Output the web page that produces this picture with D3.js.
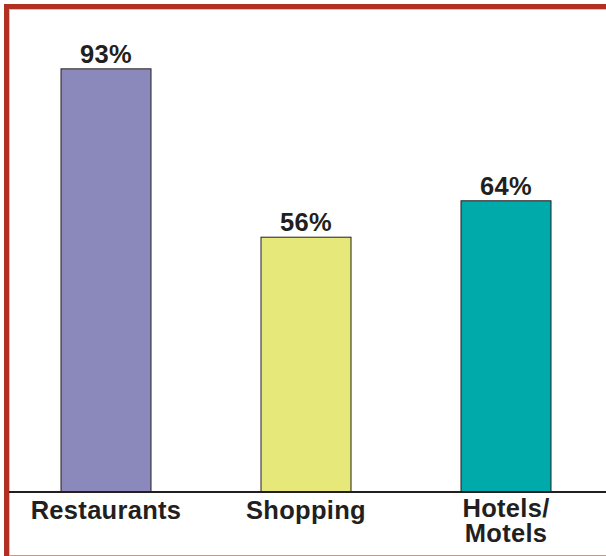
<!DOCTYPE html>
<html>
<head>
<meta charset="utf-8">
<script src="https://cdn.jsdelivr.net/npm/d3@7"></script>
<style>
    body { margin: 0; background: #fff; }
    text { font-family: "Liberation Sans", Arial, Helvetica, sans-serif; font-weight: bold; fill: #231f20; }
</style>
</head>
<body>
<div id="chart"></div>
<script>
"use strict";

// Chart data
let categories = ["Restaurants", "Shopping", "Hotels/\nMotels"];
let values = [93, 56, 64];
let valueLabels = ["93%", "56%", "64%"];
let colours = ["#8b89bb", "#e6e879", "#00a9aa"];

window.onload = function () {
    let width = 606;
    let height = 556;
    let baseline = 492;

    let svg = d3.select("#chart").append("svg")
        .attr("width", width).attr("height", height);

    // Frame: red left and top, faint pink bottom
    svg.append("rect").attr("x", 4).attr("y", 4).attr("width", width - 4).attr("height", 5)
        .style("fill", "#b03123");
    svg.append("rect").attr("x", 4).attr("y", 4).attr("width", 5).attr("height", height - 4)
        .style("fill", "#b03123");
    svg.append("line").attr("x1", 9).attr("x2", width).attr("y1", 9.5).attr("y2", 9.5)
        .style("stroke", "#f2b8b0").style("stroke-width", 1);
    svg.append("line").attr("x1", 9.5).attr("x2", 9.5).attr("y1", 9).attr("y2", height)
        .style("stroke", "#f2b8b0").style("stroke-width", 1);
    svg.append("line").attr("x1", 9).attr("x2", width).attr("y1", 555.5).attr("y2", 555.5)
        .style("stroke", "#d9928b").style("stroke-width", 1);

    // Scales
    let xScale = d3.scaleBand().domain(categories)
        .range([6, 606]).paddingInner(0.55).paddingOuter(0.275);
    let yScale = d3.scaleLinear().domain([0, 100]).range([baseline, baseline - 455]);

    let data = categories.map(function (c, i) {
        return {cat: c, value: values[i], label: valueLabels[i], colour: colours[i]};
    });

    // Bars
    svg.selectAll(".bar").data(data).enter().append("rect")
        .attr("class", "bar")
        .attr("x", function (d) { return xScale(d.cat); })
        .attr("y", function (d) { return yScale(d.value); })
        .attr("width", xScale.bandwidth())
        .attr("height", function (d) { return baseline - yScale(d.value); })
        .style("fill", function (d) { return d.colour; })
        .style("stroke", "#231f20").style("stroke-width", 1);

    // Value labels
    svg.selectAll(".val").data(data).enter().append("text")
        .attr("class", "val")
        .attr("x", function (d) { return xScale(d.cat) + xScale.bandwidth() / 2; })
        .attr("y", function (d) { return yScale(d.value) - 6; })
        .style("text-anchor", "middle").style("font-size", "25.5px")
        .style("letter-spacing", "0.3px")
        .text(function (d) { return d.label; });

    // Axis line
    svg.append("line").attr("x1", 9).attr("x2", width).attr("y1", baseline).attr("y2", baseline)
        .style("stroke", "#231f20").style("stroke-width", 2);

    // Category labels
    let catText = svg.selectAll(".cat").data(data).enter().append("text")
        .attr("class", "cat")
        .attr("x", function (d) { return xScale(d.cat) + xScale.bandwidth() / 2; })
        .attr("y", function (d, i) { return i === 2 ? 517 : 519; })
        .style("text-anchor", "middle").style("font-size", "25.5px")
        .style("letter-spacing", "0.3px");
    catText.each(function (d) {
        let lines = d.cat.split("\n");
        let x = xScale(d.cat) + xScale.bandwidth() / 2;
        lines.forEach(function (l, i) {
            d3.select(this).append("tspan").attr("x", x).attr("dy", i === 0 ? 0 : 25).text(l);
        }, this);
    });
};
</script>
</body>
</html>
